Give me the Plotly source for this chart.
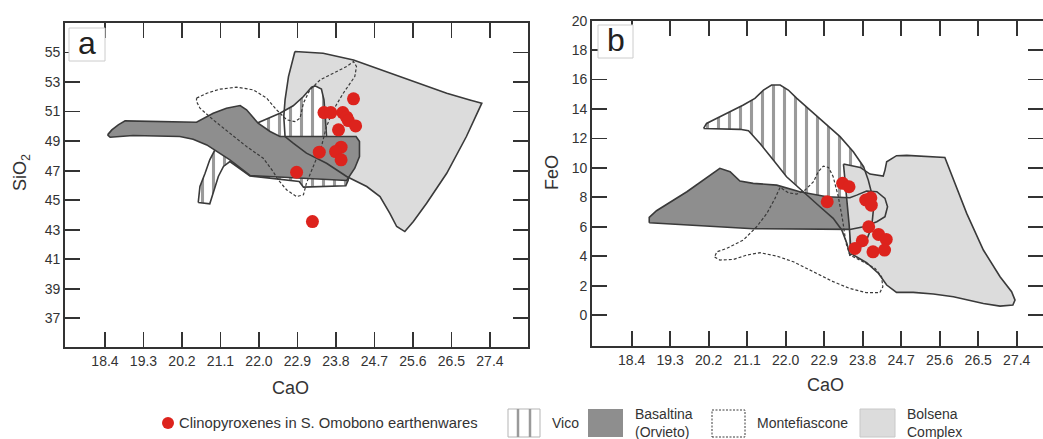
import plotly.graph_objects as go

# ---------------- DATA ----------------
cao_ticks = [18.4, 19.3, 20.2, 21.1, 22.0, 22.9, 23.8, 24.7, 25.6, 26.5, 27.4]
cao_tick_labels = ["18.4", "19.3", "20.2", "21.1", "22.0", "22.9", "23.8", "24.7", "25.6", "26.5", "27.4"]
sio2_ticks = [37, 39, 41, 43, 45, 47, 49, 51, 53, 55]
feo_ticks = [0, 2, 4, 6, 8, 10, 12, 14, 16, 18, 20]

# Panel a: CaO vs SiO2 -- clinopyroxenes
cpx_a_cao = [24.21, 23.52, 23.68, 23.96, 24.05, 24.09, 24.26, 23.86, 23.92, 23.79, 23.41, 23.92, 22.88, 23.25]
cpx_a_sio2 = [51.86, 50.93, 50.93, 50.93, 50.62, 50.39, 50.03, 49.76, 48.59, 48.29, 48.25, 47.73, 46.89, 43.55]

# Panel a fields
bolsena_a_cao = [22.84, 23.50, 24.21, 24.98, 25.61, 26.39, 26.93, 27.21, 26.85, 26.39, 25.92, 25.61, 25.41,
                 25.22, 25.06, 24.83, 24.52, 24.21, 24.05, 23.58, 23.11, 22.80, 22.61, 22.58, 22.61, 22.69]
bolsena_a_sio2 = [55.07, 54.95, 54.50, 53.71, 53.04, 52.24, 51.79, 51.57, 49.31, 46.82, 44.79, 43.55, 42.87,
                  43.21, 44.11, 45.24, 45.92, 46.37, 46.60, 47.50, 48.18, 48.86, 49.31, 50.66, 51.79, 53.37]

vico_a_cao = [20.58, 20.62, 20.74, 20.85, 20.97, 21.40, 21.95, 22.49, 22.80, 23.04, 23.23, 23.31, 23.46, 23.52,
              23.55, 23.58, 24.05, 24.09, 24.03, 23.04, 22.94, 21.79, 21.32, 21.17, 21.05, 20.95, 20.85]
vico_a_sio2 = [44.84, 45.92, 46.82, 47.73, 48.41, 49.08, 50.21, 50.89, 51.39, 52.02, 52.65, 52.74, 52.52, 51.79,
               50.66, 49.31, 49.08, 46.37, 45.97, 45.88, 46.26, 46.64, 47.61, 47.28, 46.60, 45.69, 44.75]

basaltina_a_cao = [18.46, 18.56, 18.71, 18.87, 20.54, 20.93, 21.24, 21.56, 21.71, 21.98, 22.26, 22.49, 24.27,
                   24.35, 24.35, 24.24, 24.05, 21.79, 21.32, 20.78, 20.46, 20.15, 19.06, 18.52]
basaltina_a_sio2 = [49.42, 49.76, 50.10, 50.37, 50.28, 50.89, 51.23, 51.41, 51.12, 50.21, 49.65, 49.31, 49.31,
                    48.97, 47.95, 47.16, 46.33, 46.67, 47.73, 48.74, 49.13, 49.31, 49.38, 49.26]

montef_a_cao = [20.54, 20.78, 21.09, 21.48, 21.87, 22.18, 22.41, 22.65, 22.84, 22.96, 23.04, 23.19, 23.43, 23.74,
                24.05, 24.21, 24.28, 24.24, 23.97, 23.74, 23.58, 23.46, 23.27, 23.11, 23.04, 22.88, 22.65, 22.45,
                22.33, 22.10, 21.71, 21.32, 20.93, 20.62, 20.54]
montef_a_sio2 = [51.91, 52.24, 52.52, 52.65, 52.47, 51.91, 51.12, 50.44, 50.32, 50.55, 51.57, 52.47, 53.15, 53.60,
                 54.05, 54.39, 54.05, 53.37, 52.24, 51.12, 49.99, 48.63, 47.28, 46.15, 45.36, 45.24, 45.69, 46.37,
                 46.94, 47.84, 48.63, 49.53, 50.44, 51.23, 51.68]

# Panel b: CaO vs FeO -- clinopyroxenes
cpx_b_cao = [23.33, 23.48, 22.97, 23.87, 23.99, 24.00, 23.94, 24.17, 24.35, 23.79, 23.62, 24.04, 24.31]
cpx_b_feo = [8.95, 8.72, 7.70, 7.82, 7.97, 7.47, 6.00, 5.48, 5.14, 5.05, 4.53, 4.30, 4.42]

vico_b_cao = [20.08, 20.15, 20.31, 20.62, 21.01, 21.28, 21.48, 21.67, 21.87, 22.06, 22.26, 22.57, 22.96, 23.27,
              23.58, 23.82, 23.93, 24.01, 24.05, 24.01, 23.89, 23.66, 23.50, 23.43, 23.31, 23.11, 22.80, 22.41,
              22.02, 21.71, 21.40, 21.13, 20.93]
vico_b_feo = [12.68, 13.02, 13.25, 13.70, 14.27, 14.72, 15.29, 15.63, 15.63, 15.29, 14.72, 13.93, 12.91, 12.12,
              11.10, 10.08, 9.17, 8.27, 7.16, 6.00, 5.10, 4.30, 4.08, 4.87, 5.78, 6.57, 7.36, 8.38,
              9.40, 10.53, 11.66, 12.53, 12.62]

basaltina_b_cao = [18.81, 18.81, 18.98, 19.69, 20.46, 20.70, 20.93, 21.24, 21.79, 22.33, 22.96, 23.50, 23.66,
                   23.89, 24.13, 24.32, 24.38, 24.32, 24.13, 23.82, 23.50, 21.24]
basaltina_b_feo = [6.27, 6.64, 7.09, 8.38, 9.97, 9.74, 9.11, 8.95, 8.83, 8.38, 8.04, 7.97, 8.15,
                   8.43, 8.38, 7.93, 7.36, 6.68, 6.34, 6.00, 5.82, 5.87]

bolsena_b_cao = [23.35, 23.74, 23.97, 24.28, 24.32, 24.36, 24.59, 24.83, 25.72, 25.92, 26.23, 26.62, 27.01,
                 27.28, 27.36, 27.31, 27.01, 26.62, 25.92, 25.45, 24.98, 24.59, 24.36, 24.17, 23.89, 23.58,
                 23.52, 23.48, 23.44, 23.39]
bolsena_b_feo = [10.26, 10.03, 9.58, 9.45, 9.85, 10.42, 10.83, 10.85, 10.71, 9.17, 6.91, 4.42, 2.61,
                 1.59, 1.02, 0.68, 0.61, 0.79, 1.25, 1.43, 1.54, 1.54, 2.04, 2.83, 3.56, 4.08,
                 4.65, 6.23, 7.59, 8.95]

montef_b_cao = [20.35, 20.39, 20.62, 21.01, 21.32, 21.56, 21.75, 21.87, 22.06, 22.26, 22.45, 22.65, 22.76,
                22.88, 23.00, 23.11, 23.23, 23.33, 23.41, 23.50, 23.85, 24.09, 24.24, 24.27, 24.20, 23.89,
                23.50, 23.11, 22.65, 22.18, 21.79, 21.40, 21.09, 20.78, 20.46, 20.35]
montef_b_feo = [4.03, 4.30, 4.53, 5.10, 6.00, 6.91, 7.93, 8.68, 8.31, 8.22, 8.49, 9.06, 9.74,
                10.12, 10.03, 9.40, 8.04, 6.46, 4.87, 4.08, 3.56, 3.17, 2.61, 1.92, 1.52, 1.52,
                1.81, 2.27, 2.94, 3.62, 4.01, 4.24, 4.08, 3.78, 3.74, 3.92]

legend_labels = ["Clinopyroxenes in S. Omobono earthenwares", "Vico", "Basaltina<br>(Orvieto)",
                 "Montefiascone", "Bolsena<br>Complex"]

# ---------------- STYLE ----------------
W, H = 1043, 439
FONT = "Liberation Sans, Arial, Helvetica, sans-serif"
TXT = "#333333"
OUT = "#3a3a3a"
DARK = "#8e8e8e"
LIGHT = "#dcdcdc"
RED = "#dd231d"
HATCH = dict(shape="|", fgcolor="#9a9a9a", bgcolor="white", size=11, solidity=0.28, fillmode="replace")


def closed(v):
    return list(v) + [v[0]]


def px(x):
    return x / W


def py(y):
    return 1 - y / H


fig = go.Figure()


def fill_poly(xs, ys, ax, color=None, pattern=None):
    xa, ya = ax
    kw = dict(x=closed(xs), y=closed(ys), xaxis=xa, yaxis=ya, mode="lines", fill="toself",
              line=dict(width=0, color="rgba(0,0,0,0)"), hoverinfo="skip", showlegend=False)
    if pattern is not None:
        kw["fillcolor"] = "white"
        kw["fillpattern"] = pattern
    else:
        kw["fillcolor"] = color
    fig.add_trace(go.Scatter(**kw))


def line_poly(xs, ys, ax, dash="solid", width=1.6):
    xa, ya = ax
    fig.add_trace(go.Scatter(x=closed(xs), y=closed(ys), xaxis=xa, yaxis=ya, mode="lines",
                             line=dict(color=OUT, width=width, dash=dash),
                             hoverinfo="skip", showlegend=False))


A = ("x", "y")
B = ("x2", "y2")

# ---- panel a ----
fill_poly(bolsena_a_cao, bolsena_a_sio2, A, LIGHT)
fill_poly(vico_a_cao, vico_a_sio2, A, pattern=HATCH)
line_poly(vico_a_cao, vico_a_sio2, A)
fill_poly(basaltina_a_cao, basaltina_a_sio2, A, DARK)
line_poly(basaltina_a_cao, basaltina_a_sio2, A)
line_poly(bolsena_a_cao, bolsena_a_sio2, A)
line_poly(montef_a_cao, montef_a_sio2, A, dash="3px,2px", width=1.2)
fig.add_trace(go.Scatter(x=cpx_a_cao, y=cpx_a_sio2, xaxis="x", yaxis="y", mode="markers",
                         marker=dict(color=RED, size=13, line=dict(width=0)), showlegend=False))

# ---- panel b ----
fill_poly(vico_b_cao, vico_b_feo, B, pattern=HATCH)
fill_poly(basaltina_b_cao, basaltina_b_feo, B, DARK)
fill_poly(bolsena_b_cao, bolsena_b_feo, B, LIGHT)
line_poly(vico_b_cao, vico_b_feo, B)
line_poly(basaltina_b_cao, basaltina_b_feo, B)
line_poly(bolsena_b_cao, bolsena_b_feo, B)
line_poly(montef_b_cao, montef_b_feo, B, dash="3px,2px", width=1.2)
fig.add_trace(go.Scatter(x=cpx_b_cao, y=cpx_b_feo, xaxis="x2", yaxis="y2", mode="markers",
                         marker=dict(color=RED, size=13, line=dict(width=0)), showlegend=False))

axis_common = dict(ticks="inside", ticklen=15, tickwidth=1.8, tickcolor=TXT, showline=True,
                   linecolor=TXT, linewidth=1.8, mirror="ticks", showgrid=False, zeroline=False,
                   automargin=False,
                   tickfont=dict(size=14, color=TXT, family=FONT), fixedrange=True)

fig.update_layout(
    width=W, height=H, margin=dict(l=0, r=0, t=0, b=0, autoexpand=False),
    paper_bgcolor="white", plot_bgcolor="white",
    font=dict(family=FONT, color=TXT),
    xaxis=dict(domain=[px(65), px(528)], range=[17.465, 28.29], tickvals=cao_ticks,
               ticktext=cao_tick_labels, anchor="y", **axis_common),
    yaxis=dict(domain=[py(347), py(23)], range=[35.05, 57.0], tickvals=sio2_ticks, anchor="x",
               **axis_common),
    xaxis2=dict(domain=[px(592), 1.0], range=[17.472, 28.014], tickvals=cao_ticks,
                ticktext=cao_tick_labels, anchor="y2", **axis_common),
    yaxis2=dict(domain=[py(346), py(20.7)], range=[-2.1, 20.0], tickvals=feo_ticks, anchor="x2",
                **axis_common),
)

shapes = []
ann = []


def text(t, x, y, size=14, xanchor="center", angle=0, align="center", color=TXT):
    ann.append(dict(text=t, x=px(x), y=py(y), xref="paper", yref="paper", showarrow=False,
                    xanchor=xanchor, yanchor="middle", textangle=angle, align=align,
                    font=dict(size=size, color=color, family=FONT)))


# axis titles
text("CaO", 290, 388, size=18)
text("CaO", 825, 385, size=18)
text("SiO<sub>2</sub>", 22, 173, size=18, angle=-90)
text("FeO", 552, 173, size=18, angle=-90)

# panel letters
for (x0, y0, x1, y1, t) in [(69, 28, 105, 61, "a"), (598, 25, 633, 58, "b")]:
    shapes.append(dict(type="rect", xref="paper", yref="paper", x0=px(x0), x1=px(x1), y0=py(y1), y1=py(y0),
                       fillcolor="white", line=dict(color="#cccccc", width=1)))
    text(t, (x0 + x1) / 2, (y0 + y1) / 2 - 1, size=32, color="#222222")

# legend
LY0, LY1 = 409, 437
LYC = 423
shapes.append(dict(type="circle", xref="paper", yref="paper", x0=px(162), x1=px(174), y0=py(LYC + 6),
                   y1=py(LYC - 6), fillcolor=RED, line=dict(width=0)))
text(legend_labels[0], 177, LYC, size=14.8, xanchor="left")
# Vico box
shapes.append(dict(type="rect", xref="paper", yref="paper", x0=px(508), x1=px(540), y0=py(LY1), y1=py(LY0),
                   fillcolor="white", line=dict(color="#b5b5b5", width=1)))
for xv in (518, 530):
    shapes.append(dict(type="line", xref="paper", yref="paper", x0=px(xv), x1=px(xv), y0=py(LY1), y1=py(LY0),
                       line=dict(color="#9a9a9a", width=2.5)))
text(legend_labels[1], 550, LYC, xanchor="left")
# Basaltina
shapes.append(dict(type="rect", xref="paper", yref="paper", x0=px(588), x1=px(623), y0=py(LY1), y1=py(LY0),
                   fillcolor=DARK, line=dict(width=0)))
text(legend_labels[2], 633, LYC, xanchor="left", align="left")
# Montefiascone
shapes.append(dict(type="rect", xref="paper", yref="paper", x0=px(712), x1=px(745), y0=py(LY1), y1=py(LY0 + 1),
                   fillcolor="white", line=dict(color=OUT, width=1, dash="2px,1.5px")))
text(legend_labels[3], 755, LYC, xanchor="left")
# Bolsena
shapes.append(dict(type="rect", xref="paper", yref="paper", x0=px(860), x1=px(895), y0=py(LY1), y1=py(LY0),
                   fillcolor=LIGHT, line=dict(color="#c8c8c8", width=1)))
text(legend_labels[4], 905, LYC, xanchor="left", align="left")

fig.update_layout(shapes=shapes, annotations=ann)
fig.write_html("out.html", config={"displayModeBar": False, "staticPlot": True},
               post_script="document.body.style.margin='0';document.body.style.padding='0';"
                           "document.body.style.overflow='hidden';")
